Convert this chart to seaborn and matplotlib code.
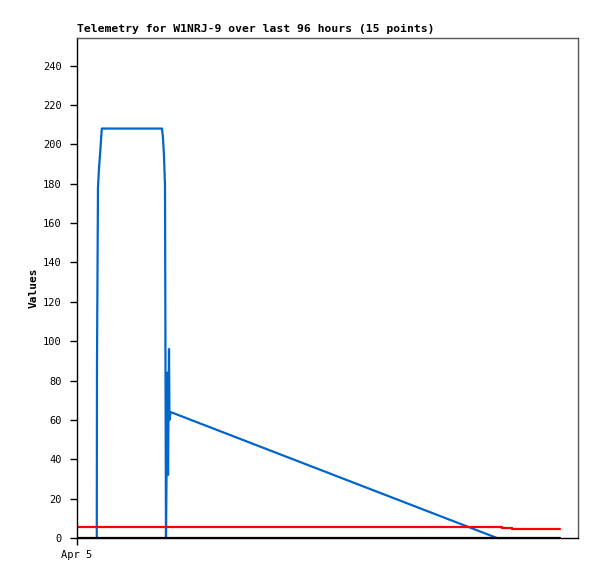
import matplotlib
matplotlib.use("Agg")
import matplotlib.pyplot as plt
import seaborn as sns
import pandas as pd

# Data (hours since Apr 5 00:00, values)
blue_hours = [3.79, 3.83, 4.02, 4.22, 4.50, 4.75, 16.29, 16.48, 16.67, 16.86, 17.05,
              17.34, 17.44, 17.63, 17.72, 17.92, 80.48]
blue_vals = [0, 88, 178, 188, 198, 208, 208, 203, 194, 179, 0,
             84, 32, 96, 60, 64, 0]
red_hours = [0.0, 81.44, 81.44, 83.35, 83.35, 92.55]
red_vals = [5.8, 5.8, 5.3, 5.3, 4.8, 4.8]
black_hours = [0.0, 92.55]
black_vals = [0, 0]
y_ticks = list(range(0, 241, 20))
x_tick_labels = ["Apr 5"]
title = "Telemetry for W1NRJ-9 over last 96 hours (15 points)"

sns.set_style("white")
plt.rcParams['font.family'] = ['DejaVu Sans Mono', 'DejaVu Sans']
plt.rcParams['text.color'] = 'black'
plt.rcParams['axes.labelcolor'] = 'black'
plt.rcParams['xtick.color'] = 'black'
plt.rcParams['ytick.color'] = 'black'

fig = plt.figure(figsize=(5.97, 5.79), dpi=100)
ax = fig.add_axes([77/597, 1-538/579, (578-77)/597, (538-38)/579])

blue_df = pd.DataFrame({"h": blue_hours, "v": blue_vals})
red_df = pd.DataFrame({"h": red_hours, "v": red_vals})
black_df = pd.DataFrame({"h": black_hours, "v": black_vals})

sns.lineplot(data=blue_df, x="h", y="v", sort=False, estimator=None, ax=ax,
             color="#0066CC", linewidth=1.6)
sns.lineplot(data=red_df, x="h", y="v", sort=False, estimator=None, ax=ax,
             color="#FF0000", linewidth=1.6)
sns.lineplot(data=black_df, x="h", y="v", sort=False, estimator=None, ax=ax,
             color="#000000", linewidth=1.6)

ax.set_xlim(0, 96)
ax.set_ylim(0, 254)
ax.set_yticks(y_ticks)
ax.set_xticks([0])
ax.set_xticklabels(x_tick_labels)
ax.tick_params(axis='both', direction='out', length=5, width=1, color='black',
               labelcolor='black', labelsize=7.5, pad=4, left=True, bottom=True)
ax.tick_params(axis='y', pad=6)
ax.set_xlabel("")
ax.set_ylabel("Values", fontsize=8, fontweight='bold', labelpad=3, color='black')
ax.set_title(title, fontsize=8.2, fontweight='bold', loc='left', pad=4, color='black')

for side in ['left', 'bottom']:
    ax.spines[side].set_color('black')
    ax.spines[side].set_linewidth(1)
for side in ['top', 'right']:
    ax.spines[side].set_color('#555555')
    ax.spines[side].set_linewidth(1)
    ax.spines[side].set_visible(True)

fig.savefig("out.png", dpi=100)
